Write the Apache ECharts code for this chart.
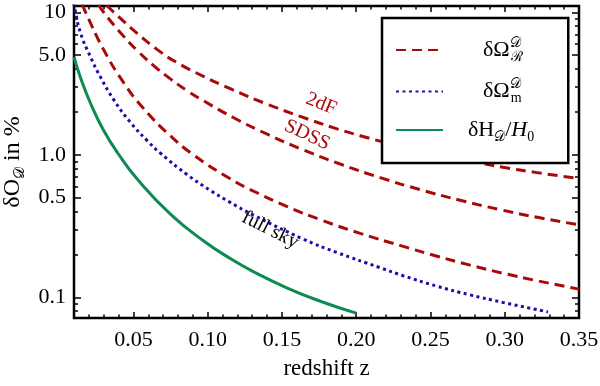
<!DOCTYPE html>
<html><head><meta charset="utf-8">
<script src="https://cdn.jsdelivr.net/npm/echarts@6/dist/echarts.min.js"></script>
<style>html,body{margin:0;padding:0;background:#fff}#c{width:600px;height:386px}</style>
</head><body><div id="c"></div>
<script>
// axis ticks
const zMajorTicks = [0.05, 0.10, 0.15, 0.20, 0.25, 0.30, 0.35];
const zMinorTicks = [0.02, 0.03, 0.04, 0.06, 0.07, 0.08, 0.09, 0.11, 0.12, 0.13, 0.14, 0.16, 0.17, 0.18, 0.19,
  0.21, 0.22, 0.23, 0.24, 0.26, 0.27, 0.28, 0.29, 0.31, 0.32, 0.33, 0.34];
const yMajorTicks = [0.1, 0.5, 1, 5, 10];
const yMajorLabels = ['0.1', '0.5', '1.0', '5.0', '10'];
const yMinorTicks = [0.08, 0.09, 0.2, 0.3, 0.4, 0.6, 0.7, 0.8, 0.9, 2, 3, 4, 6, 7, 8, 9];

// series data: [redshift z, value in %]
const omegaR_2dF = [[0.032, 11.2], [0.0366, 10.05], [0.0527, 7.09], [0.0661, 5.47], [0.0796, 4.42], [0.0971, 3.555],
  [0.1152, 2.91], [0.1401, 2.265], [0.1623, 1.86], [0.1845, 1.552], [0.2027, 1.361], [0.2296, 1.151], [0.2565, 0.998],
  [0.2766, 0.906], [0.2988, 0.818], [0.3217, 0.750], [0.35, 0.682]];
const omegaR_SDSS = [[0.0265, 11.3], [0.0298, 10.05], [0.0413, 7.19], [0.0527, 5.377], [0.0634, 4.248], [0.0749, 3.409],
  [0.0863, 2.812], [0.0971, 2.397], [0.1172, 1.827], [0.1401, 1.395], [0.1623, 1.105], [0.1892, 0.862], [0.2161, 0.692],
  [0.2430, 0.570], [0.2699, 0.480], [0.2968, 0.4124], [0.3237, 0.3612], [0.35, 0.3227]];
const omegaR_full = [[0.0155, 11.4], [0.0177, 10.05], [0.0298, 5.50], [0.0433, 3.227], [0.0567, 2.12], [0.0749, 1.359],
  [0.0903, 1.002], [0.1152, 0.6786], [0.1307, 0.557], [0.1536, 0.4329], [0.1758, 0.3509], [0.2027, 0.2808],
  [0.2316, 0.2279], [0.2544, 0.1943], [0.2766, 0.1683], [0.2988, 0.1476], [0.3217, 0.1308], [0.35, 0.1142]];
const omegaM_full = [[0.0098, 11.6], [0.011, 10.05], [0.0144, 7.155], [0.0211, 4.857], [0.0278, 3.516], [0.0366, 2.448],
  [0.048, 1.688], [0.0594, 1.254], [0.0682, 1.026], [0.0863, 0.724], [0.1018, 0.5626], [0.1152, 0.4634], [0.1307, 0.378],
  [0.1643, 0.2565], [0.1872, 0.206], [0.2161, 0.1614], [0.2316, 0.1418], [0.2544, 0.1197], [0.2766, 0.1041],
  [0.2988, 0.0921], [0.3291, 0.0790]];
const hubble = [[0.01, 4.86], [0.0144, 3.47], [0.0211, 2.30], [0.0298, 1.493], [0.0399, 1.013], [0.0527, 0.673],
  [0.0749, 0.384], [0.0971, 0.2494], [0.1152, 0.1872], [0.1307, 0.1515], [0.1536, 0.1162], [0.1758, 0.0939], [0.20, 0.0775]];

// curve annotations
const annotations = [
  { text: '2dF', at: [0.1764, 2.27], angle: -22 },
  { text: 'SDSS', at: [0.1670, 1.377], angle: -25 },
  { text: 'full sky', at: [0.1421, 0.2967], angle: -27 }
];

const zMin = 0.01, zMax = 0.35, yMin = 0.0716, yMax = 11.07;
const RED = '#a80a0a', BLUE = '#1e0ca8', GREEN = '#0c8c50';
const FONT = 'Liberation Serif';

const legendLabels = {
  R: '{g1|}{t|δΩ}{sp|𝒟}{sb|ℛ}',
  M: '{g1|}{t|δΩ}{sp|𝒟}{sb|m}',
  H: '{g2|}{t|δH}{sb|𝒟}{t|/}{it|H}{sb|0}'
};

const chart = echarts.init(document.getElementById('c'), null, { renderer: 'canvas' });

function xAx(pos, ticks, len, labels) {
  return {
    type: 'value', position: pos, min: zMin, max: zMax, gridIndex: 0,
    axisLine: { show: false },
    splitLine: { show: false },
    axisTick: { show: true, inside: true, length: len, customValues: ticks, lineStyle: { color: '#000', width: 1.5 } },
    axisLabel: labels ? { show: true, customValues: zMajorTicks, formatter: v => v.toFixed(2), fontFamily: FONT, fontSize: 22, color: '#000', margin: 11 } : { show: false },
    name: labels ? 'redshift z' : '',
    nameLocation: 'middle', nameGap: 39,
    nameTextStyle: { fontFamily: FONT, fontSize: 23, color: '#000' }
  };
}
function yAx(pos, ticks, len, labels) {
  return {
    type: 'log', position: pos, min: yMin, max: yMax, gridIndex: 0,
    axisLine: { show: false },
    splitLine: { show: false },
    minorTick: { show: false },
    axisTick: { show: true, inside: true, length: len, customValues: ticks, lineStyle: { color: '#000', width: 1.5 } },
    axisLabel: labels ? { show: true, customValues: yMajorTicks, formatter: v => yMajorLabels[yMajorTicks.findIndex(t => Math.abs(t - v) < 1e-9)], fontFamily: FONT, fontSize: 22, color: '#000', margin: 8 } : { show: false },
    name: labels ? '{t|δO}{sb|𝒟}{t| in %}' : '',
    nameLocation: 'middle', nameRotate: 90, nameGap: 32,
    nameTextStyle: { fontFamily: FONT, fontSize: 24, color: '#000',
      rich: { t: { fontFamily: FONT, fontSize: 24, lineHeight: 30 }, sb: { fontFamily: FONT, fontSize: 15, verticalAlign: 'bottom' } } }
  };
}

function markFor(a, color) {
  return {
    silent: true, symbol: 'circle', symbolSize: 0, animation: false,
    data: [{ coord: a.at, label: { show: true, position: 'inside', formatter: a.text, rotate: a.angle, color: color, fontFamily: FONT, fontSize: 20 } }]
  };
}
function redSeries(data, ann) {
  const s = {
    name: 'R', type: 'line', data: data, smooth: 0.5, showSymbol: false, symbol: 'none', xAxisIndex: 0, yAxisIndex: 0,
    lineStyle: { color: RED, width: 3, type: [10, 6] }, itemStyle: { color: RED }, z: 3
  };
  if (ann) s.markPoint = markFor(ann, RED);
  return s;
}

chart.setOption({
  animation: false,
  backgroundColor: '#fff',
  grid: { left: 74, right: 21, top: 6, bottom: 68, show: true, borderColor: '#000', borderWidth: 2.5, backgroundColor: 'transparent', containLabel: false, outerBoundsMode: 'none' },
  xAxis: [xAx('bottom', zMajorTicks, 6, true), xAx('bottom', zMinorTicks, 3.5, false), xAx('top', zMajorTicks, 6, false), xAx('top', zMinorTicks, 3.5, false)],
  yAxis: [yAx('left', yMajorTicks, 7, true), yAx('left', yMinorTicks, 4, false), yAx('right', yMajorTicks, 7, false), yAx('right', yMinorTicks, 4, false)],
  legend: {
    orient: 'vertical', left: 382, top: 18, data: ['R', 'M', 'H'],
    backgroundColor: '#fff', borderColor: '#000', borderWidth: 2.5,
    padding: [18, 34, 19, 13], itemWidth: 47, itemHeight: 10, itemGap: 13.5,
    itemStyle: { opacity: 0 },
    formatter: n => legendLabels[n],
    textStyle: { fontFamily: FONT, fontSize: 22, color: '#000',
      rich: {
        g1: { width: 35 },
        g2: { width: 20 },
        t: { fontFamily: FONT, fontSize: 22, lineHeight: 28, color: '#000' },
        it: { fontFamily: FONT, fontSize: 22, fontStyle: 'italic', lineHeight: 28, color: '#000' },
        sp: { fontFamily: FONT, fontSize: 14, verticalAlign: 'top', width: 1, color: '#000' },
        sb: { fontFamily: FONT, fontSize: 14, verticalAlign: 'bottom', color: '#000' }
      } }
  },
  series: [
    redSeries(omegaR_2dF, annotations[0]),
    redSeries(omegaR_SDSS, annotations[1]),
    redSeries(omegaR_full, null),
    { name: 'M', type: 'line', data: omegaM_full, smooth: 0.5, showSymbol: false, symbol: 'none',
      lineStyle: { color: BLUE, width: 3, type: [3, 3.5] }, itemStyle: { color: BLUE }, z: 3,
      markPoint: { silent: true, symbol: 'circle', symbolSize: 0,
        data: [{ coord: annotations[2].at, label: { show: true, position: 'inside', formatter: annotations[2].text, rotate: annotations[2].angle, color: '#000', fontFamily: FONT, fontSize: 20 } }] } },
    { name: 'H', type: 'line', data: hubble, smooth: 0.5, showSymbol: false, symbol: 'none',
      lineStyle: { color: GREEN, width: 3 }, itemStyle: { color: GREEN }, z: 3 }
  ]
});
</script></body></html>
